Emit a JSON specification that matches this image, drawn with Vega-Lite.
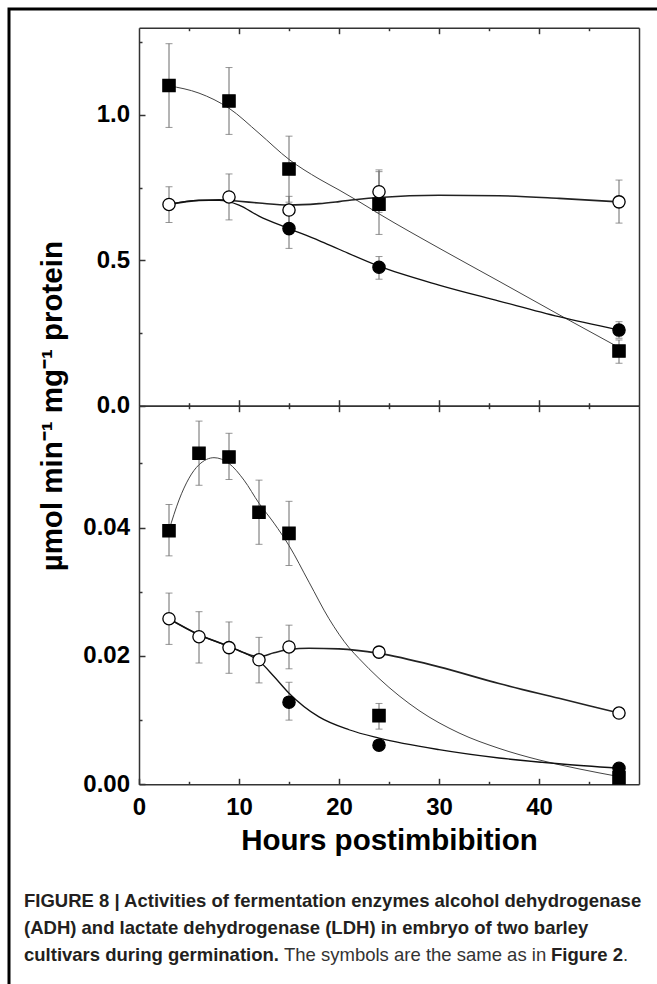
{
  "$schema": "https://vega.github.io/schema/vega-lite/v6.json",
  "width": 660,
  "height": 990,
  "padding": {"left": 9, "top": 9, "right": 0, "bottom": 0},
  "background": "white",
  "config": {
    "view": {"stroke": "black", "strokeWidth": 3},
    "axis": {
      "grid": false,
      "domainColor": "#333333",
      "domainWidth": 1.5,
      "tickColor": "#333333",
      "tickWidth": 1.5,
      "labelFont": "Liberation Sans",
      "labelFontSize": 24,
      "labelFontWeight": "bold",
      "labelColor": "black",
      "labelFlush": false,
      "labelOverlap": false,
      "titleFont": "Liberation Sans",
      "titleFontWeight": "bold",
      "titleColor": "black"
    }
  },
  "datasets": {
    "points": [
      {"enzyme": "ADH", "series": "filled square", "hours": 3, "value": 1.101, "lo": 0.957, "hi": 1.245},
      {"enzyme": "ADH", "series": "filled square", "hours": 9, "value": 1.048, "lo": 0.933, "hi": 1.163},
      {"enzyme": "ADH", "series": "filled square", "hours": 15, "value": 0.814, "lo": 0.70, "hi": 0.927},
      {"enzyme": "ADH", "series": "filled square", "hours": 24, "value": 0.693, "lo": 0.589, "hi": 0.811},
      {"enzyme": "ADH", "series": "filled square", "hours": 48, "value": 0.188, "lo": 0.146, "hi": 0.226},
      {"enzyme": "ADH", "series": "filled circle", "hours": 15, "value": 0.609, "lo": 0.541, "hi": 0.677},
      {"enzyme": "ADH", "series": "filled circle", "hours": 24, "value": 0.476, "lo": 0.435, "hi": 0.513},
      {"enzyme": "ADH", "series": "filled circle", "hours": 48, "value": 0.26, "lo": 0.232, "hi": 0.289},
      {"enzyme": "ADH", "series": "open circle", "hours": 3, "value": 0.692, "lo": 0.630, "hi": 0.753},
      {"enzyme": "ADH", "series": "open circle", "hours": 9, "value": 0.718, "lo": 0.639, "hi": 0.797},
      {"enzyme": "ADH", "series": "open circle", "hours": 15, "value": 0.673, "lo": 0.625, "hi": 0.72},
      {"enzyme": "ADH", "series": "open circle", "hours": 24, "value": 0.736, "lo": 0.665, "hi": 0.805},
      {"enzyme": "ADH", "series": "open circle", "hours": 48, "value": 0.701, "lo": 0.628, "hi": 0.776},
      {"enzyme": "LDH", "series": "filled square", "hours": 3, "value": 0.0395, "lo": 0.0356, "hi": 0.0436},
      {"enzyme": "LDH", "series": "filled square", "hours": 6, "value": 0.0516, "lo": 0.0466, "hi": 0.0566},
      {"enzyme": "LDH", "series": "filled square", "hours": 9, "value": 0.0510, "lo": 0.0475, "hi": 0.0547},
      {"enzyme": "LDH", "series": "filled square", "hours": 12, "value": 0.0424, "lo": 0.0374, "hi": 0.0474},
      {"enzyme": "LDH", "series": "filled square", "hours": 15, "value": 0.0391, "lo": 0.0341, "hi": 0.0441},
      {"enzyme": "LDH", "series": "filled square", "hours": 24, "value": 0.0107, "lo": 0.0086, "hi": 0.0126},
      {"enzyme": "LDH", "series": "filled square", "hours": 48, "value": 0.0010, "lo": null, "hi": null},
      {"enzyme": "LDH", "series": "filled circle", "hours": 15, "value": 0.0128, "lo": 0.0100, "hi": 0.0159},
      {"enzyme": "LDH", "series": "filled circle", "hours": 24, "value": 0.0061, "lo": null, "hi": null},
      {"enzyme": "LDH", "series": "filled circle", "hours": 48, "value": 0.0025, "lo": null, "hi": null},
      {"enzyme": "LDH", "series": "open circle", "hours": 3, "value": 0.0258, "lo": 0.0218, "hi": 0.0298},
      {"enzyme": "LDH", "series": "open circle", "hours": 6, "value": 0.0230, "lo": 0.0189, "hi": 0.0269},
      {"enzyme": "LDH", "series": "open circle", "hours": 9, "value": 0.0213, "lo": 0.0173, "hi": 0.0253},
      {"enzyme": "LDH", "series": "open circle", "hours": 12, "value": 0.0194, "lo": 0.0158, "hi": 0.0229},
      {"enzyme": "LDH", "series": "open circle", "hours": 15, "value": 0.0214, "lo": 0.0180, "hi": 0.0248},
      {"enzyme": "LDH", "series": "open circle", "hours": 24, "value": 0.0206, "lo": null, "hi": null},
      {"enzyme": "LDH", "series": "open circle", "hours": 48, "value": 0.0111, "lo": null, "hi": null}
    ],
    "curves": [
      {"enzyme": "ADH", "series": "filled square", "hours": 3, "value": 1.10},
      {"enzyme": "ADH", "series": "filled square", "hours": 6, "value": 1.075},
      {"enzyme": "ADH", "series": "filled square", "hours": 9, "value": 1.023},
      {"enzyme": "ADH", "series": "filled square", "hours": 12, "value": 0.937},
      {"enzyme": "ADH", "series": "filled square", "hours": 15, "value": 0.847},
      {"enzyme": "ADH", "series": "filled square", "hours": 18, "value": 0.78},
      {"enzyme": "ADH", "series": "filled square", "hours": 20, "value": 0.742},
      {"enzyme": "ADH", "series": "filled square", "hours": 22, "value": 0.702},
      {"enzyme": "ADH", "series": "filled square", "hours": 24, "value": 0.66},
      {"enzyme": "ADH", "series": "filled square", "hours": 30, "value": 0.542},
      {"enzyme": "ADH", "series": "filled square", "hours": 36, "value": 0.428},
      {"enzyme": "ADH", "series": "filled square", "hours": 42, "value": 0.313},
      {"enzyme": "ADH", "series": "filled square", "hours": 48, "value": 0.20},
      {"enzyme": "ADH", "series": "open circle", "hours": 3, "value": 0.692},
      {"enzyme": "ADH", "series": "open circle", "hours": 6, "value": 0.706},
      {"enzyme": "ADH", "series": "open circle", "hours": 8, "value": 0.708},
      {"enzyme": "ADH", "series": "open circle", "hours": 10, "value": 0.703},
      {"enzyme": "ADH", "series": "open circle", "hours": 12, "value": 0.697},
      {"enzyme": "ADH", "series": "open circle", "hours": 15, "value": 0.690},
      {"enzyme": "ADH", "series": "open circle", "hours": 18, "value": 0.695},
      {"enzyme": "ADH", "series": "open circle", "hours": 20, "value": 0.702},
      {"enzyme": "ADH", "series": "open circle", "hours": 22, "value": 0.710},
      {"enzyme": "ADH", "series": "open circle", "hours": 24, "value": 0.716},
      {"enzyme": "ADH", "series": "open circle", "hours": 30, "value": 0.724},
      {"enzyme": "ADH", "series": "open circle", "hours": 36, "value": 0.722},
      {"enzyme": "ADH", "series": "open circle", "hours": 42, "value": 0.713},
      {"enzyme": "ADH", "series": "open circle", "hours": 48, "value": 0.701},
      {"enzyme": "ADH", "series": "filled circle", "hours": 3, "value": 0.692},
      {"enzyme": "ADH", "series": "filled circle", "hours": 6, "value": 0.706},
      {"enzyme": "ADH", "series": "filled circle", "hours": 8, "value": 0.706},
      {"enzyme": "ADH", "series": "filled circle", "hours": 10, "value": 0.690},
      {"enzyme": "ADH", "series": "filled circle", "hours": 12, "value": 0.652},
      {"enzyme": "ADH", "series": "filled circle", "hours": 15, "value": 0.609},
      {"enzyme": "ADH", "series": "filled circle", "hours": 18, "value": 0.568},
      {"enzyme": "ADH", "series": "filled circle", "hours": 20, "value": 0.538},
      {"enzyme": "ADH", "series": "filled circle", "hours": 24, "value": 0.480},
      {"enzyme": "ADH", "series": "filled circle", "hours": 30, "value": 0.415},
      {"enzyme": "ADH", "series": "filled circle", "hours": 36, "value": 0.360},
      {"enzyme": "ADH", "series": "filled circle", "hours": 42, "value": 0.306},
      {"enzyme": "ADH", "series": "filled circle", "hours": 48, "value": 0.260},
      {"enzyme": "LDH", "series": "filled square", "hours": 3, "value": 0.0396},
      {"enzyme": "LDH", "series": "filled square", "hours": 4, "value": 0.0443},
      {"enzyme": "LDH", "series": "filled square", "hours": 5, "value": 0.0477},
      {"enzyme": "LDH", "series": "filled square", "hours": 6, "value": 0.0498},
      {"enzyme": "LDH", "series": "filled square", "hours": 7.5, "value": 0.0509},
      {"enzyme": "LDH", "series": "filled square", "hours": 9, "value": 0.0500},
      {"enzyme": "LDH", "series": "filled square", "hours": 10.5, "value": 0.0474},
      {"enzyme": "LDH", "series": "filled square", "hours": 12, "value": 0.0438},
      {"enzyme": "LDH", "series": "filled square", "hours": 13.5, "value": 0.0407},
      {"enzyme": "LDH", "series": "filled square", "hours": 15, "value": 0.0372},
      {"enzyme": "LDH", "series": "filled square", "hours": 17, "value": 0.0315},
      {"enzyme": "LDH", "series": "filled square", "hours": 19, "value": 0.0258},
      {"enzyme": "LDH", "series": "filled square", "hours": 21, "value": 0.0213},
      {"enzyme": "LDH", "series": "filled square", "hours": 22, "value": 0.0196},
      {"enzyme": "LDH", "series": "filled square", "hours": 24, "value": 0.0165},
      {"enzyme": "LDH", "series": "filled square", "hours": 28, "value": 0.0115},
      {"enzyme": "LDH", "series": "filled square", "hours": 32, "value": 0.0080},
      {"enzyme": "LDH", "series": "filled square", "hours": 36, "value": 0.0056},
      {"enzyme": "LDH", "series": "filled square", "hours": 40, "value": 0.0038},
      {"enzyme": "LDH", "series": "filled square", "hours": 44, "value": 0.0024},
      {"enzyme": "LDH", "series": "filled square", "hours": 48, "value": 0.0012},
      {"enzyme": "LDH", "series": "open circle", "hours": 3, "value": 0.0258},
      {"enzyme": "LDH", "series": "open circle", "hours": 6, "value": 0.0233},
      {"enzyme": "LDH", "series": "open circle", "hours": 9, "value": 0.0215},
      {"enzyme": "LDH", "series": "open circle", "hours": 10.5, "value": 0.0205},
      {"enzyme": "LDH", "series": "open circle", "hours": 12, "value": 0.0199},
      {"enzyme": "LDH", "series": "open circle", "hours": 13.5, "value": 0.0205},
      {"enzyme": "LDH", "series": "open circle", "hours": 15, "value": 0.0210},
      {"enzyme": "LDH", "series": "open circle", "hours": 17, "value": 0.0212},
      {"enzyme": "LDH", "series": "open circle", "hours": 20, "value": 0.0211},
      {"enzyme": "LDH", "series": "open circle", "hours": 24, "value": 0.0204},
      {"enzyme": "LDH", "series": "open circle", "hours": 30, "value": 0.0183},
      {"enzyme": "LDH", "series": "open circle", "hours": 36, "value": 0.0157},
      {"enzyme": "LDH", "series": "open circle", "hours": 42, "value": 0.0134},
      {"enzyme": "LDH", "series": "open circle", "hours": 48, "value": 0.0111},
      {"enzyme": "LDH", "series": "filled circle", "hours": 3, "value": 0.0258},
      {"enzyme": "LDH", "series": "filled circle", "hours": 6, "value": 0.0233},
      {"enzyme": "LDH", "series": "filled circle", "hours": 9, "value": 0.0215},
      {"enzyme": "LDH", "series": "filled circle", "hours": 10.5, "value": 0.0205},
      {"enzyme": "LDH", "series": "filled circle", "hours": 12, "value": 0.0192},
      {"enzyme": "LDH", "series": "filled circle", "hours": 13.5, "value": 0.0168},
      {"enzyme": "LDH", "series": "filled circle", "hours": 15, "value": 0.0142},
      {"enzyme": "LDH", "series": "filled circle", "hours": 18, "value": 0.0105},
      {"enzyme": "LDH", "series": "filled circle", "hours": 21, "value": 0.0085},
      {"enzyme": "LDH", "series": "filled circle", "hours": 24, "value": 0.0072},
      {"enzyme": "LDH", "series": "filled circle", "hours": 30, "value": 0.0054},
      {"enzyme": "LDH", "series": "filled circle", "hours": 36, "value": 0.0041},
      {"enzyme": "LDH", "series": "filled circle", "hours": 42, "value": 0.0032},
      {"enzyme": "LDH", "series": "filled circle", "hours": 48, "value": 0.0025}
    ],
    "caption": [
      {"line": 1, "text": "FIGURE 8 | Activities of fermentation enzymes alcohol dehydrogenase"},
      {"line": 2, "text": "(ADH) and lactate dehydrogenase (LDH) in embryo of two barley"},
      {"line": 3, "text": "cultivars during germination."}
    ],
    "captionRegular": [
      {"line": 3, "text": "The symbols are the same as in"}
    ],
    "captionRef": [
      {"line": 3, "text": "Figure 2"}
    ],
    "captionEnd": [
      {"line": 3, "text": "."}
    ]
  },
  "layer": [
    {
      "layer": [
        {
          "data": {"name": "points"},
          "transform": [{"filter": "datum.enzyme === 'ADH' && isValid(datum.lo)"}],
          "mark": {"type": "rule", "color": "#6b6b6b", "strokeWidth": 1},
          "encoding": {
            "x": {"field": "hours", "type": "quantitative", "scale": {"domain": [0, 50], "range": [130, 630], "nice": false, "zero": false},
                  "axis": {"orient": "top", "offset": -18.7, "values": [10, 20, 30, 40], "tickSize": -6, "labels": false, "title": null, "domain": true}},
            "y": {"field": "lo", "type": "quantitative", "scale": {"domain": [0, 1.3], "range": [396.7, 18.7], "nice": false, "zero": false},
                  "axis": {"orient": "left", "offset": -130, "values": [0, 0.5, 1.0], "format": ".1f", "tickSize": -6, "labelPadding": 15.5, "domain": true,
                           "title": "µmol min⁻¹ mg⁻¹ protein", "titleFontSize": 29.5, "titleAngle": -90, "titleX": -78, "titleY": 396.7, "titleAlign": "center", "titleBaseline": "alphabetic"}},
            "y2": {"field": "hi"}
          }
        },
        {
          "data": {"name": "points"},
          "transform": [{"filter": "datum.enzyme === 'ADH' && isValid(datum.lo)"}],
          "mark": {"type": "tick", "orient": "horizontal", "size": 7, "thickness": 1, "color": "#6b6b6b"},
          "encoding": {
            "x": {"field": "hours", "type": "quantitative", "scale": {"domain": [0, 50], "range": [130, 630], "nice": false, "zero": false},
                  "axis": {"orient": "top", "offset": -18.7, "values": [5, 15, 25, 35, 45], "tickSize": -3, "labels": false, "title": null, "domain": false}},
            "y": {"field": "lo", "type": "quantitative", "scale": {"domain": [0, 1.3], "range": [396.7, 18.7], "nice": false, "zero": false},
                  "axis": {"orient": "left", "offset": -130, "values": [0.25, 0.75, 1.25], "tickSize": -3, "labels": false, "title": null, "domain": false}}
          }
        },
        {
          "data": {"name": "points"},
          "transform": [{"filter": "datum.enzyme === 'ADH' && isValid(datum.hi)"}],
          "mark": {"type": "tick", "orient": "horizontal", "size": 7, "thickness": 1, "color": "#6b6b6b"},
          "encoding": {
            "x": {"field": "hours", "type": "quantitative", "scale": {"domain": [0, 50], "range": [130, 630], "nice": false, "zero": false},
                  "axis": {"orient": "top", "offset": -396.7, "values": [10, 20, 30, 40], "tickSize": 6, "labels": false, "title": null, "domain": true}},
            "y": {"field": "hi", "type": "quantitative", "scale": {"domain": [0, 1.3], "range": [396.7, 18.7], "nice": false, "zero": false},
                  "axis": {"orient": "right", "offset": -30, "ticks": false, "labels": false, "title": null, "domain": true}}
          }
        },
        {
          "data": {"name": "curves"},
          "transform": [{"filter": "datum.enzyme === 'ADH'"}],
          "mark": {"type": "line", "interpolate": "monotone"},
          "encoding": {
            "x": {"field": "hours", "type": "quantitative", "scale": {"domain": [0, 50], "range": [130, 630], "nice": false, "zero": false},
                  "axis": {"orient": "top", "offset": -396.7, "values": [5, 15, 25, 35, 45], "tickSize": 3, "labels": false, "title": null, "domain": false}},
            "y": {"field": "value", "type": "quantitative", "scale": {"domain": [0, 1.3], "range": [396.7, 18.7], "nice": false, "zero": false}, "axis": null},
            "stroke": {"field": "series", "type": "nominal", "scale": {"domain": ["filled square", "filled circle", "open circle"], "range": ["#444444", "#111111", "#222222"]}, "legend": null},
            "strokeWidth": {"field": "series", "type": "nominal", "scale": {"domain": ["filled square", "filled circle", "open circle"], "range": [1, 1.6, 1.3]}, "legend": null}
          }
        },
        {
          "data": {"name": "points"},
          "transform": [{"filter": "datum.enzyme === 'ADH'"}],
          "mark": {"type": "point", "filled": true, "size": 150, "stroke": "black", "strokeWidth": 1.3, "opacity": 1},
          "encoding": {
            "x": {"field": "hours", "type": "quantitative", "scale": {"domain": [0, 50], "range": [130, 630], "nice": false, "zero": false}, "axis": null},
            "y": {"field": "value", "type": "quantitative", "scale": {"domain": [0, 1.3], "range": [396.7, 18.7], "nice": false, "zero": false}, "axis": null},
            "shape": {"field": "series", "type": "nominal", "scale": {"domain": ["filled square", "filled circle", "open circle"], "range": ["square", "circle", "circle"]}, "legend": null},
            "fill": {"field": "series", "type": "nominal", "scale": {"domain": ["filled square", "filled circle", "open circle"], "range": ["black", "black", "white"]}, "legend": null}
          }
        },
        {
          "mark": {"type": "text", "text": "ADH", "font": "Liberation Sans", "fontSize": 33, "fontWeight": "bold", "align": "left", "baseline": "alphabetic", "color": "black"},
          "encoding": {
            "x": {"datum": 19.1, "type": "quantitative", "scale": {"domain": [0, 50], "range": [130, 630], "nice": false, "zero": false}, "axis": null},
            "y": {"datum": 1.075, "type": "quantitative", "scale": {"domain": [0, 1.3], "range": [396.7, 18.7], "nice": false, "zero": false}, "axis": null}
          }
        }
      ],
      "resolve": {"axis": {"x": "independent", "y": "independent"}}
    },
    {
      "layer": [
        {
          "data": {"name": "points"},
          "transform": [{"filter": "datum.enzyme === 'LDH' && isValid(datum.lo)"}],
          "mark": {"type": "rule", "color": "#6b6b6b", "strokeWidth": 1},
          "encoding": {
            "x": {"field": "hours", "type": "quantitative", "scale": {"domain": [0, 50], "range": [130, 630], "nice": false, "zero": false},
                  "axis": {"orient": "top", "offset": -396.7, "values": [10, 20, 30, 40], "tickSize": -6, "labels": false, "title": null, "domain": true}},
            "y": {"field": "lo", "type": "quantitative", "scale": {"domain": [0, 0.059], "range": [775.3, 396.7], "nice": false, "zero": false},
                  "axis": {"orient": "left", "offset": -130, "values": [0, 0.02, 0.04], "format": ".2f", "tickSize": -6, "labelPadding": 15.5, "domain": true, "title": null}},
            "y2": {"field": "hi"}
          }
        },
        {
          "data": {"name": "points"},
          "transform": [{"filter": "datum.enzyme === 'LDH' && isValid(datum.lo)"}],
          "mark": {"type": "tick", "orient": "horizontal", "size": 7, "thickness": 1, "color": "#6b6b6b"},
          "encoding": {
            "x": {"field": "hours", "type": "quantitative", "scale": {"domain": [0, 50], "range": [130, 630], "nice": false, "zero": false},
                  "axis": {"orient": "top", "offset": -396.7, "values": [5, 15, 25, 35, 45], "tickSize": -3, "labels": false, "title": null, "domain": false}},
            "y": {"field": "lo", "type": "quantitative", "scale": {"domain": [0, 0.059], "range": [775.3, 396.7], "nice": false, "zero": false},
                  "axis": {"orient": "left", "offset": -130, "values": [0.01, 0.03, 0.05], "tickSize": -3, "labels": false, "title": null, "domain": false}}
          }
        },
        {
          "data": {"name": "points"},
          "transform": [{"filter": "datum.enzyme === 'LDH' && isValid(datum.hi)"}],
          "mark": {"type": "tick", "orient": "horizontal", "size": 7, "thickness": 1, "color": "#6b6b6b"},
          "encoding": {
            "x": {"field": "hours", "type": "quantitative", "scale": {"domain": [0, 50], "range": [130, 630], "nice": false, "zero": false},
                  "axis": {"orient": "bottom", "offset": -214.7, "values": [0, 10, 20, 30, 40], "format": "d", "tickSize": -6, "labelPadding": 16.7, "domain": true,
                           "title": "Hours postimbibition", "titleFontSize": 29.5, "titlePadding": 7}},
            "y": {"field": "hi", "type": "quantitative", "scale": {"domain": [0, 0.059], "range": [775.3, 396.7], "nice": false, "zero": false},
                  "axis": {"orient": "right", "offset": -30, "ticks": false, "labels": false, "title": null, "domain": true}}
          }
        },
        {
          "data": {"name": "curves"},
          "transform": [{"filter": "datum.enzyme === 'LDH'"}],
          "mark": {"type": "line", "interpolate": "monotone"},
          "encoding": {
            "x": {"field": "hours", "type": "quantitative", "scale": {"domain": [0, 50], "range": [130, 630], "nice": false, "zero": false},
                  "axis": {"orient": "bottom", "offset": -214.7, "values": [5, 15, 25, 35, 45], "tickSize": -3, "labels": false, "title": null, "domain": false}},
            "y": {"field": "value", "type": "quantitative", "scale": {"domain": [0, 0.059], "range": [775.3, 396.7], "nice": false, "zero": false}, "axis": null},
            "stroke": {"field": "series", "type": "nominal", "scale": {"domain": ["filled square", "filled circle", "open circle"], "range": ["#444444", "#111111", "#222222"]}, "legend": null},
            "strokeWidth": {"field": "series", "type": "nominal", "scale": {"domain": ["filled square", "filled circle", "open circle"], "range": [1, 1.6, 1.3]}, "legend": null}
          }
        },
        {
          "data": {"name": "points"},
          "transform": [{"filter": "datum.enzyme === 'LDH'"}],
          "mark": {"type": "point", "filled": true, "size": 150, "stroke": "black", "strokeWidth": 1.3, "opacity": 1},
          "encoding": {
            "x": {"field": "hours", "type": "quantitative", "scale": {"domain": [0, 50], "range": [130, 630], "nice": false, "zero": false}, "axis": null},
            "y": {"field": "value", "type": "quantitative", "scale": {"domain": [0, 0.059], "range": [775.3, 396.7], "nice": false, "zero": false}, "axis": null},
            "shape": {"field": "series", "type": "nominal", "scale": {"domain": ["filled square", "filled circle", "open circle"], "range": ["square", "circle", "circle"]}, "legend": null},
            "fill": {"field": "series", "type": "nominal", "scale": {"domain": ["filled square", "filled circle", "open circle"], "range": ["black", "black", "white"]}, "legend": null}
          }
        },
        {
          "mark": {"type": "text", "text": "LDH", "font": "Liberation Sans", "fontSize": 33, "fontWeight": "bold", "align": "left", "baseline": "alphabetic", "color": "black"},
          "encoding": {
            "x": {"datum": 19.9, "type": "quantitative", "scale": {"domain": [0, 50], "range": [130, 630], "nice": false, "zero": false}, "axis": null},
            "y": {"datum": 0.0471, "type": "quantitative", "scale": {"domain": [0, 0.059], "range": [775.3, 396.7], "nice": false, "zero": false}, "axis": null}
          }
        }
      ],
      "resolve": {"axis": {"x": "independent", "y": "independent"}}
    },
    {
      "layer": [
        {
          "data": {"name": "caption"},
          "mark": {"type": "text", "font": "Liberation Sans", "fontSize": 18.5, "fontWeight": "bold", "align": "left", "baseline": "alphabetic", "color": "#231f20"},
          "encoding": {
            "x": {"datum": 0, "type": "quantitative", "scale": {"domain": [0, 1], "range": [15, 640]}, "axis": null},
            "y": {"field": "line", "type": "ordinal", "scale": {"type": "point", "domain": [1, 2, 3], "range": [898, 952], "padding": 0}, "axis": null},
            "text": {"field": "text"}
          }
        },
        {
          "data": {"name": "captionRegular"},
          "mark": {"type": "text", "font": "Liberation Sans", "fontSize": 18.5, "fontWeight": "normal", "align": "left", "baseline": "alphabetic", "color": "#333333", "dx": 260},
          "encoding": {
            "x": {"datum": 0, "type": "quantitative", "scale": {"domain": [0, 1], "range": [15, 640]}, "axis": null},
            "y": {"field": "line", "type": "ordinal", "scale": {"type": "point", "domain": [1, 2, 3], "range": [898, 952], "padding": 0}, "axis": null},
            "text": {"field": "text"}
          }
        },
        {
          "data": {"name": "captionRef"},
          "mark": {"type": "text", "font": "Liberation Sans", "fontSize": 18.5, "fontWeight": "bold", "align": "left", "baseline": "alphabetic", "color": "#231f20", "dx": 527},
          "encoding": {
            "x": {"datum": 0, "type": "quantitative", "scale": {"domain": [0, 1], "range": [15, 640]}, "axis": null},
            "y": {"field": "line", "type": "ordinal", "scale": {"type": "point", "domain": [1, 2, 3], "range": [898, 952], "padding": 0}, "axis": null},
            "text": {"field": "text"}
          }
        },
        {
          "data": {"name": "captionEnd"},
          "mark": {"type": "text", "font": "Liberation Sans", "fontSize": 18.5, "fontWeight": "normal", "align": "left", "baseline": "alphabetic", "color": "#333333", "dx": 599},
          "encoding": {
            "x": {"datum": 0, "type": "quantitative", "scale": {"domain": [0, 1], "range": [15, 640]}, "axis": null},
            "y": {"field": "line", "type": "ordinal", "scale": {"type": "point", "domain": [1, 2, 3], "range": [898, 952], "padding": 0}, "axis": null},
            "text": {"field": "text"}
          }
        }
      ]
    }
  ],
  "resolve": {"scale": {"x": "independent", "y": "independent"}, "axis": {"x": "independent", "y": "independent"}}
}
